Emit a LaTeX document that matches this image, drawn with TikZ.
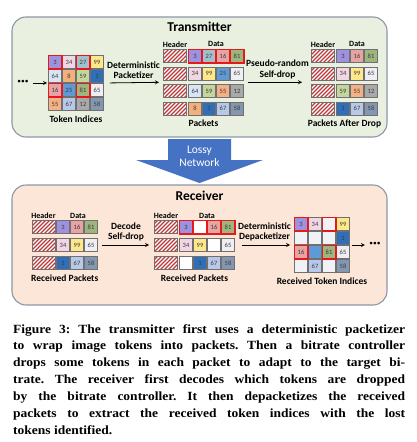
\documentclass[tikz,border=0pt]{standalone}
\usepackage{fontspec}
\setmainfont{Liberation Serif}[FakeStretch=1.08]
\newfontfamily\calib{Carlito}
\usetikzlibrary{positioning, arrows, patterns, fit}
\frenchspacing

\definecolor{txfill}{HTML}{E9F0DF}
\definecolor{rxfill}{HTML}{FBE6D8}
\definecolor{panelline}{HTML}{8C97A8}
\definecolor{cellline}{HTML}{707070}
\definecolor{hatch}{HTML}{B83A3A}
\definecolor{pick}{HTML}{E3191C}
\definecolor{netblue}{HTML}{4672C4}
\definecolor{blank}{HTML}{F1F2F6}
\definecolor{numtext}{HTML}{3A3A3A}
% token colours
\definecolor{t3}{HTML}{9E91E0}
\definecolor{t34}{HTML}{F1D6E4}
\definecolor{t27}{HTML}{A2C0CC}
\definecolor{t99}{HTML}{FFE88A}
\definecolor{t64}{HTML}{D9E5F4}
\definecolor{t8}{HTML}{F4B07A}
\definecolor{t59}{HTML}{C3D69B}
\definecolor{t1}{HTML}{2F6FB8}
\definecolor{t16}{HTML}{E8A3A3}
\definecolor{t25}{HTML}{5E9AD6}
\definecolor{t81}{HTML}{9FB57E}
\definecolor{t65}{HTML}{EEEEF4}
\definecolor{t55}{HTML}{F4B183}
\definecolor{t67}{HTML}{B7C8E8}
\definecolor{t12}{HTML}{A9A9A9}
\definecolor{t58}{HTML}{8497B0}

\pgfdeclarepatternformonly{hdrlines}{\pgfqpoint{-1pt}{-1pt}}{\pgfqpoint{5pt}{5pt}}{\pgfqpoint{4pt}{4pt}}%
{
  \pgfsetlinewidth{1.3pt}
  \pgfpathmoveto{\pgfqpoint{0pt}{0pt}}
  \pgfpathlineto{\pgfqpoint{4.1pt}{4.1pt}}
  \pgfusepath{stroke}
}

\tikzstyle{panel} = [rectangle, rounded corners=14pt, draw=panelline, line width=1.1pt]
\tikzstyle{title} = [font=\calib\bfseries\fontsize{13.5}{15}\selectfont]
\tikzstyle{cell} = [rectangle, draw=cellline, line width=0.5pt, minimum width=13pt, minimum height=13pt, inner sep=0pt, text=numtext, font=\calib\fontsize{6.5}{7}\selectfont]
\tikzstyle{hdr} = [rectangle, draw=cellline, line width=0.5pt, minimum width=23pt, minimum height=13pt, preaction={fill=white}, pattern=hdrlines, pattern color=hatch]
\tikzstyle{pickline} = [draw=pick, line width=1.5pt]
\tikzstyle{lbl} = [font=\calib\bfseries\fontsize{9.5}{10.5}\selectfont, align=center]
\tikzstyle{small} = [font=\calib\bfseries\fontsize{8}{9}\selectfont, inner sep=1pt]
\tikzstyle{dots} = [font=\calib\bfseries\fontsize{14}{14}\selectfont]
\tikzstyle{arrow} = [thick,->,>=stealth]

\begin{document}
\begin{tikzpicture}[x=1pt, y=-1pt]
\useasboundingbox (0,0) rectangle (417,442);

% panels
\node (tx) [panel, fill=txfill, minimum width=375pt, minimum height=120pt] at (199.5,77) {};
\node (rx) [panel, fill=rxfill, minimum width=375pt, minimum height=120pt] at (199.5,245) {};
\node (txtitle) [title, below=2pt of tx.north] {Transmitter};
\node (rxtitle) [title, below=3pt of rx.north] {Receiver};

% lossy network
\draw [fill=netblue, draw=none] (168,139) -- (231,139) -- (231,160) -- (263,160) -- (199.5,183) -- (136,160) -- (168,160) -- cycle;
\node (lossy) [font=\calib\fontsize{11.5}{13}\selectfont, text=white, align=center] at (199.5,156) {Lossy\\Network};

% token indices
\foreach \n [count=\i from 0] in {3,34,27,99,64,8,59,1,16,25,81,65,55,67,12,58}
  \node (a\i) [cell, fill=t\n] at ({55+14*mod(\i,4)}, {62+14*int(\i/4)}) {\n};
\foreach \i in {0,2,8,10}
  \draw [pickline] (a\i.north west) rectangle (a\i.south east);
\node (grid1) [fit=(a0)(a15), inner sep=0pt] {};
\node (dots1) [dots, left=16pt of grid1] {···};
\node (gridlbl1) [lbl, below=1pt of grid1] {Token Indices};

% packets
\foreach \row [count=\r] in {{3,27,16,81},{34,99,25,65},{64,59,55,12},{8,1,67,58}} {
  \node (h\r) [hdr] at (175, {56+17.5*(\r-1)}) {};
  \foreach \n [count=\k] in \row
    \node (p\r\k) [cell, fill=t\n] at ({195+14*(\k-1)}, {56+17.5*(\r-1)}) {\n};
}
\foreach \k in {1,...,4}
  \draw [pickline] (p1\k.north west) rectangle (p1\k.south east);
\node (pk1) [fit=(h1)(p44), inner sep=0pt] {};
\node (hlbl1) [small, above=0pt of h1] {Header};
\node (dlbl1) [small] at (216,44) {Data};
\node (pklbl1) [lbl, below=1pt of pk1] {Packets};

% packets after drop
\foreach \row [count=\r] in {{3,16,81},{34,99,65},{59,55,12},{1,67,58}} {
  \node (g\r) [hdr] at (323, {56+17.5*(\r-1)}) {};
  \foreach \n [count=\k] in \row
    \node (d\r\k) [cell, fill=t\n] at ({343+14*(\k-1)}, {56+17.5*(\r-1)}) {\n};
}
\node (pk2) [fit=(g1)(d43), inner sep=0pt] {};
\node (hlbl2) [small, above=0pt of g1] {Header};
\node (dlbl2) [small] at (357,44) {Data};
\node (pklbl2) [lbl, below=1pt of pk2] {Packets After Drop};

\draw [arrow, shorten <=1pt, shorten >=1pt] (dots1) -- (grid1);
\draw [arrow, shorten <=6pt, shorten >=4pt] (grid1.east) -- node [lbl, above] {Deterministic\\Packetizer} (pk1.west);
\draw [arrow, shorten <=4pt, shorten >=9pt] (pk1.east) -- node [lbl, above] {Pseudo-random\\Self-drop} (pk2.west);

% received packets
\foreach \row [count=\r] in {{3,16,81},{34,99,65},{1,67,58}} {
  \node (rh\r) [hdr] at (43.5, {227+18*(\r-1)}) {};
  \foreach \n [count=\k] in \row
    \node (q\r\k) [cell, fill=t\n] at ({63+14*(\k-1)}, {227+18*(\r-1)}) {\n};
}
\node (rpk1) [fit=(rh1)(q33), inner sep=0pt] {};
\node (hlbl3) [small, above=0pt of rh1] {Header};
\node (dlbl3) [small] at (78,216) {Data};
\node (rpklbl1) [lbl, below=1pt of rpk1] {Received Packets};

% received packets, self-drop decoded
\foreach \row [count=\r] in {{3/t3,/white,16/t16,81/t81},{34/t34,99/t99,/white,65/t65},{/white,1/t1,67/t67,58/t58}} {
  \node (sh\r) [hdr] at (166, {227+18*(\r-1)}) {};
  \foreach \n/\c [count=\k] in \row
    \node (s\r\k) [cell, fill=\c] at ({186+14*(\k-1)}, {227+18*(\r-1)}) {\n};
}
\foreach \k in {1,...,4}
  \draw [pickline] (s1\k.north west) rectangle (s1\k.south east);
\node (rpk2) [fit=(sh1)(s34), inner sep=0pt] {};
\node (hlbl4) [small, above=0pt of sh1] {Header};
\node (dlbl4) [small] at (207,216) {Data};
\node (rpklbl2) [lbl, below=1pt of rpk2] {Received Packets};

% received token indices
\foreach \n/\c [count=\i from 0] in {3/t3,34/t34,/blank,99/t99,/blank,/blank,/blank,1/t1,16/t16,/t25,81/t81,65/t65,/blank,67/t67,/blank,58/t58}
  \node (b\i) [cell, fill=\c] at ({301+14*mod(\i,4)}, {224+14*int(\i/4)}) {\n};
\foreach \i in {0,2,8,10}
  \draw [pickline] (b\i.north west) rectangle (b\i.south east);
\node (grid2) [fit=(b0)(b15), inner sep=0pt] {};
\node (dots2) [dots, right=16pt of grid2] {···};
\node (gridlbl2) [lbl, below=1pt of grid2] {Received Token Indices};

\draw [arrow, shorten <=4pt, shorten >=5pt] (rpk1.east) -- node [lbl, above] {Decode\\Self-drop} (rpk2.west);
\draw [arrow, shorten <=7pt, shorten >=4pt] (rpk2.east) -- node [lbl, above] {Deterministic\\Depacketizer} (grid2.west);
\draw [arrow, shorten <=2pt, shorten >=1pt] (grid2) -- (dots2);

% caption
\node (caption) [anchor=north west, inner sep=0pt, text width=392pt, align=justify, font=\bfseries\fontsize{12.5}{16.9}\selectfont] at (13,324) {%
Figure 3: The transmitter first uses a deterministic packetizer\linebreak
to wrap image tokens into packets. Then a bitrate controller\linebreak
drops some tokens in each packet to adapt to the target bi-\linebreak
trate. The receiver first decodes which tokens are dropped\linebreak
by the bitrate controller. It then depacketizes the received\linebreak
packets to extract the received token indices with the lost\linebreak
tokens identified.};
\end{tikzpicture}
\end{document}
